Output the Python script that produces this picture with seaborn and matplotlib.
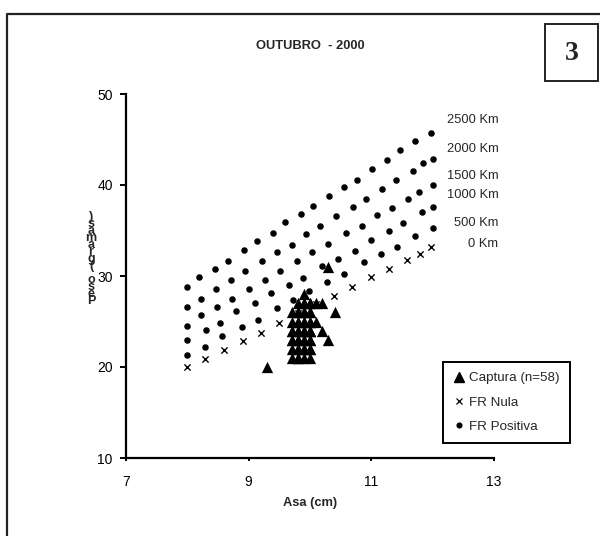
import matplotlib
matplotlib.use("Agg")
import matplotlib.pyplot as plt
import seaborn as sns
import pandas as pd
from matplotlib.lines import Line2D
from matplotlib.patches import Rectangle

# Flight-range curves: wing length (cm) vs body weight (g)
km0_asa = [8.0, 8.29, 8.6, 8.9, 9.2, 9.5, 9.81, 10.1, 10.39, 10.69, 10.99, 11.29, 11.58, 11.8, 11.98]
km0_peso = [20.0, 20.85, 21.87, 22.86, 23.77, 24.84, 25.9, 26.89, 27.84, 28.76, 29.86, 30.77, 31.76, 32.42, 33.15]

km500_asa = [8.0, 8.28, 8.56, 8.89, 9.16, 9.46, 9.72, 9.99, 10.28, 10.56, 10.88, 11.16, 11.42, 11.71, 12.0]
km500_peso = [21.3, 22.2, 23.4, 24.4, 25.2, 26.5, 27.4, 28.3, 29.3, 30.2, 31.5, 32.4, 33.2, 34.4, 35.3]

km1000_asa = [8.0, 8.3, 8.53, 8.8, 9.1, 9.36, 9.65, 9.89, 10.19, 10.45, 10.73, 11.0, 11.28, 11.52, 11.82, 12.0]
km1000_peso = [23.0, 24.1, 24.8, 26.1, 27.0, 28.1, 29.0, 29.8, 31.1, 31.9, 32.8, 34.0, 34.9, 35.8, 37.0, 37.6]

km1500_asa = [8.0, 8.23, 8.48, 8.73, 9.01, 9.27, 9.51, 9.78, 10.04, 10.3, 10.58, 10.84, 11.1, 11.33, 11.59, 11.77, 12.0]
km1500_peso = [24.5, 25.7, 26.6, 27.5, 28.6, 29.6, 30.5, 31.7, 32.6, 33.5, 34.7, 35.5, 36.7, 37.5, 38.5, 39.2, 40.0]

km2000_asa = [8.0, 8.22, 8.46, 8.71, 8.94, 9.22, 9.46, 9.7, 9.93, 10.17, 10.42, 10.7, 10.92, 11.17, 11.41, 11.68, 11.84, 12.0]
km2000_peso = [26.6, 27.5, 28.6, 29.6, 30.5, 31.7, 32.6, 33.4, 34.6, 35.5, 36.6, 37.6, 38.5, 39.6, 40.5, 41.5, 42.4, 42.9]

km2500_asa = [8.0, 8.19, 8.45, 8.66, 8.92, 9.13, 9.39, 9.6, 9.85, 10.05, 10.31, 10.56, 10.76, 11.01, 11.26, 11.47, 11.71, 11.97]
km2500_peso = [28.8, 29.9, 30.8, 31.7, 32.9, 33.8, 34.7, 35.9, 36.8, 37.7, 38.8, 39.8, 40.6, 41.8, 42.7, 43.8, 44.8, 45.7]

# Captured birds (n=58)
captura_asa = [9.3, 10.3, 10.4, 10.2, 10.3, 10.2, 10.1, 10.1, 9.9,
               9.7, 9.7, 9.7, 9.7, 9.7, 9.7,
               9.8, 9.8, 9.8, 9.8, 9.8, 9.8, 9.8,
               9.9, 9.9, 9.9, 9.9, 9.9, 9.9, 9.9,
               10.0, 10.0, 10.0, 10.0, 10.0, 10.0, 10.0,
               9.8, 9.8, 9.9, 9.9, 9.9, 10.0, 10.0, 9.8, 9.9, 10.0, 9.8,
               9.9, 10.0, 9.7, 9.7, 9.8, 9.9, 10.0, 10.0, 9.8, 9.9, 10.0]
captura_peso = [20, 31, 26, 24, 23, 27, 27, 25, 28,
                21, 22, 23, 24, 25, 26,
                21, 22, 23, 24, 25, 26, 27,
                21, 22, 23, 24, 25, 26, 27,
                21, 22, 23, 24, 25, 26, 27,
                25, 24, 24, 25, 26, 25, 24, 23, 23, 26, 22,
                22, 22, 24, 23, 26, 27, 27, 23, 21, 24, 24]

distancias = ["0 Km", "500 Km", "1000 Km", "1500 Km", "2000 Km", "2500 Km"]
rotulo_y = [33.5, 35.8, 38.9, 41.0, 44.0, 47.1]

W, H = 600, 536
sns.set_theme(style="white")
plt.rcParams["font.family"] = ["Liberation Sans", "DejaVu Sans"]

fig = plt.figure(figsize=(W / 100, H / 100), dpi=100)
ax = fig.add_axes([126 / W, 1 - 458 / H, (494 - 126) / W, (458 - 94) / H])

positiva = pd.concat([
    pd.DataFrame({"asa": a, "peso": p, "dist": d})
    for a, p, d in [(km500_asa, km500_peso, "500"), (km1000_asa, km1000_peso, "1000"),
                    (km1500_asa, km1500_peso, "1500"), (km2000_asa, km2000_peso, "2000"),
                    (km2500_asa, km2500_peso, "2500")]
])
nula = pd.DataFrame({"asa": km0_asa, "peso": km0_peso})
captura = pd.DataFrame({"asa": captura_asa, "peso": captura_peso})

sns.scatterplot(data=positiva, x="asa", y="peso", marker="o", color="black",
                s=22, linewidth=0, ax=ax, legend=False, zorder=3)
sns.scatterplot(data=nula, x="asa", y="peso", marker="x", color="black",
                s=20, linewidth=1.0, ax=ax, legend=False, zorder=3)
sns.scatterplot(data=captura, x="asa", y="peso", marker="^", color="black",
                s=66, linewidth=0, ax=ax, legend=False, zorder=4)

ax.set_xlim(7, 13)
ax.set_ylim(10, 50)
ax.set_xticks([7, 9, 11, 13])
ax.set_yticks([10, 20, 30, 40, 50])
for side in ("top", "right"):
    ax.spines[side].set_visible(False)
for side in ("left", "bottom"):
    ax.spines[side].set_linewidth(1.6)
    ax.spines[side].set_color("black")
ax.tick_params(axis="y", direction="out", length=4.5, width=1.4, pad=5,
               labelsize=10, left=True, colors="black")
ax.tick_params(axis="x", direction="out", length=2.5, width=1.4, pad=10,
               labelsize=10, bottom=True, colors="black")
ax.set_xlabel("")
ax.set_ylabel("")

for nome, yy in zip(distancias, rotulo_y):
    ax.text(13.07, yy, nome, ha="right", va="center", fontsize=9.3, clip_on=False)

# Titles
fig.text(310 / W, 1 - 46 / H, "OUTUBRO  - 2000", ha="center", va="center",
         fontsize=9.3, fontweight="bold")
fig.text(310 / W, 1 - 503 / H, "Asa (cm)", ha="center", va="center",
         fontsize=9.3, fontweight="bold")

# y-axis label: upright glyphs stacked bottom-to-top
fig.text(91 / W, 1 - 259 / H, "\n".join(reversed("Peso (gramas)")),
         ha="center", va="center", multialignment="center",
         fontsize=9, fontweight="bold", linespacing=0.44)

# Legend
handles = [
    Line2D([], [], marker="^", color="black", linestyle="None", markersize=6.5),
    Line2D([], [], marker="x", color="black", linestyle="None", markersize=4, markeredgewidth=0.9),
    Line2D([], [], marker="o", color="black", linestyle="None", markersize=3.4),
]
leg = fig.legend(handles, ["Captura (n=58)", "FR Nula", "FR Positiva"],
                 loc="upper left", bbox_to_anchor=(443 / W, 1 - 362 / H),
                 fontsize=9.6, frameon=True, fancybox=False, framealpha=1,
                 edgecolor="black", borderpad=0.75, labelspacing=0.9,
                 handlelength=0.9, handletextpad=0.3, borderaxespad=0)
leg.get_frame().set_linewidth(1.4)

# Outer frame and panel number box
fig.add_artist(Line2D([7 / W, 7 / W, 1.0], [0.0, 1 - 14 / H, 1 - 14 / H],
                      transform=fig.transFigure, color="#222222", linewidth=1.6))
fig.add_artist(Rectangle((545 / W, 1 - 81 / H), 53 / W, 57 / H,
                         transform=fig.transFigure, fill=False,
                         edgecolor="#222222", linewidth=1.4))
fig.text(571.5 / W, 1 - 53 / H, "3", ha="center", va="center", fontsize=20,
         fontweight="bold", family=["Liberation Serif", "DejaVu Serif"])

fig.savefig("out.png", dpi=100, facecolor="white")
